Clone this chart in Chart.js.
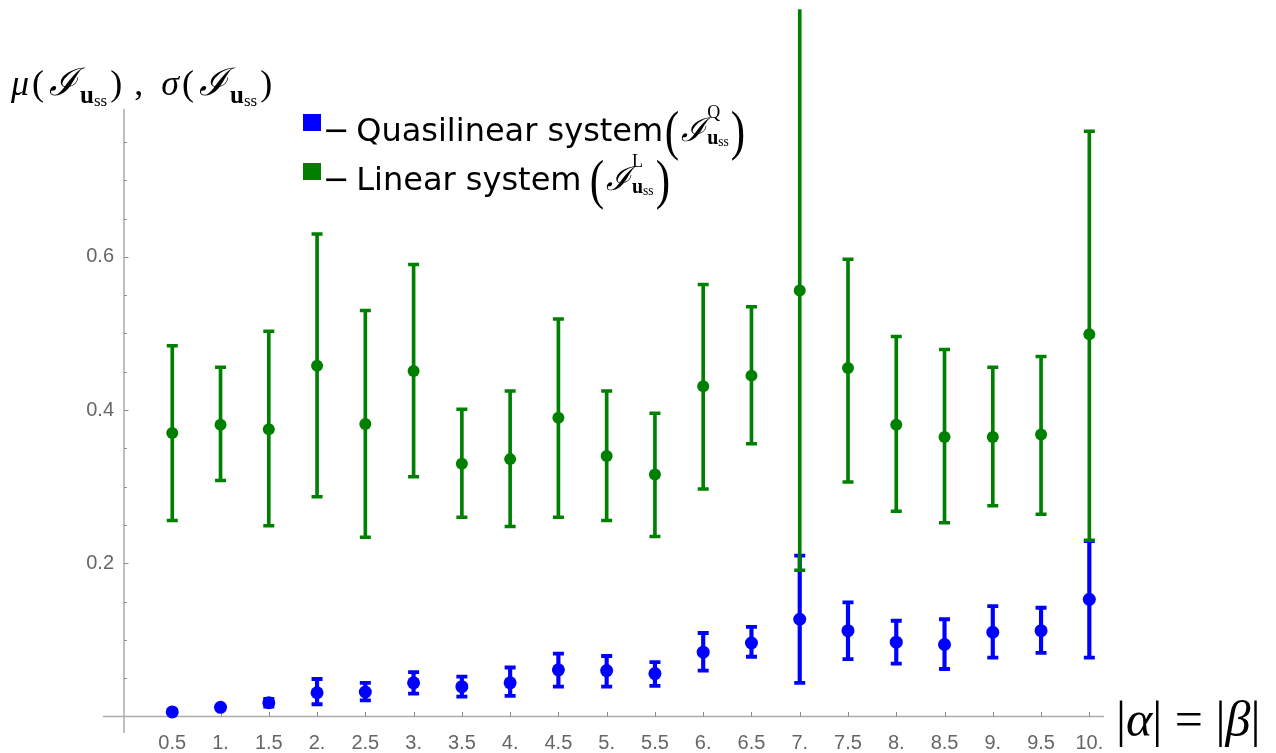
<!DOCTYPE html>
<html><head><meta charset="utf-8">
<script src="https://cdn.jsdelivr.net/npm/chart.js@4.4.1/dist/chart.umd.min.js"></script>
<style>
html,body{margin:0;padding:0;background:#fff;width:1276px;height:753px;overflow:hidden}
#wrap{position:relative;width:1276px;height:753px}
canvas{position:absolute;left:0;top:0}
.ov{position:absolute;white-space:nowrap;color:#000;line-height:1}
.serif{font-family:"Liberation Serif","DejaVu Serif",serif}
.sans{font-family:"DejaVu Sans",sans-serif}
.cal{font-family:"DejaVu Serif",serif;font-style:italic}
.sq{position:absolute;width:18px;height:17px}
.sub1{font-size:25px;vertical-align:-0.3em;margin-left:3px}
.sub2{font-size:68%;vertical-align:-0.18em;font-weight:normal}
.ss{display:inline-flex;flex-direction:column;vertical-align:middle;line-height:1;margin-left:1px}
.ss .up{font-size:18px;height:18px;margin-top:-16px}
.ss .dn{font-size:20px;margin-top:6px}
.par{font-size:54px;font-weight:normal;vertical-align:-8px;display:inline-block;transform:scaleX(0.8)}
.tp{display:inline-block;margin:0 3px}
</style>
</head><body>
<div id="wrap">
<canvas id="c" width="1276" height="753"></canvas>

<div class="ov serif" id="ytitle" style="left:11px;top:63px;font-size:36px;">
<i>μ</i><span class="tp">(</span><span class="cal" style="font-size:38px;margin-left:2px">ℐ</span><span class="sub1"><b>u</b><span class="sub2">ss</span></span><span class="tp">)</span>&nbsp;,&nbsp;&nbsp;<i>σ</i><span class="tp">(</span><span class="cal" style="font-size:38px;margin-left:2px">ℐ</span><span class="sub1"><b>u</b><span class="sub2">ss</span></span><span class="tp">)</span>
</div>

<div class="sq" style="left:303px;top:114px;background:rgb(0,0,255)"></div>
<div class="ov sans" style="left:323px;top:104px;font-size:32px;">−&thinsp;Quasilinear system<span class="serif"><span class="par">(</span><span class="cal" style="font-size:33px">ℐ</span><span class="ss"><span class="up">Q</span><span class="dn"><b>u</b><span class="sub2">ss</span></span></span><span class="par">)</span></span></div>

<div class="sq" style="left:303px;top:163px;background:rgb(0,128,0)"></div>
<div class="ov sans" style="left:323px;top:153px;font-size:32px;">−&thinsp;Linear system&thinsp;<span class="serif"><span class="par">(</span><span class="cal" style="font-size:33px">ℐ</span><span class="ss"><span class="up">L</span><span class="dn"><b>u</b><span class="sub2">ss</span></span></span><span class="par">)</span></span></div>

<div class="ov serif" id="xtitle" style="left:1116px;top:694px;font-size:50px;">|<i>α</i>|&nbsp;=&nbsp;|<i>β</i>|</div>
</div>

<script>
// ---- data ----
const xVals = [0.5,1,1.5,2,2.5,3,3.5,4,4.5,5,5.5,6,6.5,7,7.5,8,8.5,9,9.5,10];
const xTickLabels = ["0.5","1.","1.5","2.","2.5","3.","3.5","4.","4.5","5.","5.5","6.","6.5","7.","7.5","8.","8.5","9.","9.5","10."];
const yTickVals = [0.2,0.4,0.6];
const yTickLabels = ["0.2","0.4","0.6"];
const yMinorVals = [0.05,0.1,0.15,0.25,0.3,0.35,0.45,0.5,0.55,0.65,0.7,0.75];

const linearMean  = [0.370,0.381,0.375,0.458,0.382,0.451,0.330,0.336,0.390,0.340,0.316,0.431,0.445,0.556,0.455,0.381,0.365,0.365,0.368,0.499];
const linearUpper = [0.484,0.456,0.503,0.630,0.530,0.590,0.401,0.425,0.519,0.425,0.396,0.564,0.535,0.930,0.597,0.496,0.479,0.456,0.470,0.764];
const linearLower = [0.256,0.308,0.249,0.287,0.234,0.313,0.260,0.248,0.260,0.256,0.235,0.297,0.356,0.191,0.306,0.268,0.253,0.275,0.264,0.230];

const quasiMean  = [0.006,0.012,0.018,0.031,0.032,0.044,0.039,0.044,0.061,0.060,0.056,0.084,0.096,0.127,0.112,0.097,0.094,0.110,0.112,0.153];
const quasiUpper = [0.008,0.014,0.023,0.049,0.044,0.058,0.052,0.064,0.082,0.079,0.071,0.109,0.117,0.210,0.149,0.125,0.127,0.144,0.142,0.229];
const quasiLower = [0.004,0.010,0.013,0.016,0.021,0.030,0.026,0.027,0.039,0.039,0.040,0.060,0.078,0.044,0.075,0.069,0.062,0.077,0.083,0.077];

// ---- axis ranges ----
const X_MIN = 0, X_MAX = 10.152, X_AXIS_START = -0.218;
const Y_MIN = -0.0176, Y_MAX = 0.9232, Y_AXIS_TOP = 0.793;

const GREEN = 'rgb(0,128,0)';
const BLUE = 'rgb(0,0,255)';

function pts(arr){ return xVals.map((x,i)=>({x:x,y:arr[i]})); }
function bars(lo,hi){ return xVals.map((x,i)=>({x:x,y:[lo[i],hi[i]]})); }

const axesPlugin = {
  id:'mmaAxes',
  beforeDatasetsDraw(chart){
    const {ctx, scales:{x,y}} = chart;
    const y0 = y.getPixelForValue(0), x0 = x.getPixelForValue(0);
    ctx.save();
    ctx.strokeStyle = '#ababab'; ctx.lineWidth = 1.5;
    ctx.beginPath(); ctx.moveTo(x.getPixelForValue(X_AXIS_START), y0); ctx.lineTo(x.right, y0); ctx.stroke();
    ctx.beginPath(); ctx.moveTo(x0, y.bottom + 3); ctx.lineTo(x0, y.getPixelForValue(Y_AXIS_TOP)); ctx.stroke();
    ctx.strokeStyle = '#8a8a8a'; ctx.lineWidth = 1;
    xVals.forEach(v=>{ const p = Math.round(x.getPixelForValue(v))+0.5; ctx.beginPath(); ctx.moveTo(p,y0); ctx.lineTo(p,y0-4.5); ctx.stroke(); });
    yTickVals.forEach(v=>{ const p = Math.round(y.getPixelForValue(v))+0.5; ctx.beginPath(); ctx.moveTo(x0,p); ctx.lineTo(x0+4.5,p); ctx.stroke(); });
    yMinorVals.forEach(v=>{ const p = Math.round(y.getPixelForValue(v))+0.5; ctx.beginPath(); ctx.moveTo(x0,p); ctx.lineTo(x0+2.8,p); ctx.stroke(); });
    ctx.restore();
  }
};

const tickFont = {family:'"Liberation Sans", Arial, sans-serif', size:20};

new Chart(document.getElementById('c'), {
  type:'scatter',
  data:{datasets:[
    {label:'Linear mean', data:pts(linearMean), backgroundColor:GREEN, borderWidth:0, pointRadius:6, order:1},
    {label:'Linear caps', data:pts(linearUpper).concat(pts(linearLower)), pointStyle:'line', pointRadius:5.5, borderColor:GREEN, borderWidth:3.5, order:2},
    {type:'bar', label:'Linear bars', data:bars(linearLower,linearUpper), backgroundColor:GREEN, barThickness:3, grouped:false, borderWidth:0, order:3},
    {label:'Quasilinear mean', data:pts(quasiMean), backgroundColor:BLUE, borderWidth:0, pointRadius:6.5, order:4},
    {label:'Quasilinear caps', data:pts(quasiUpper).concat(pts(quasiLower)), pointStyle:'line', pointRadius:5.5, borderColor:BLUE, borderWidth:3.8, order:5},
    {type:'bar', label:'Quasilinear bars', data:bars(quasiLower,quasiUpper), backgroundColor:BLUE, barThickness:3.5, grouped:false, borderWidth:0, order:6}
  ]},
  options:{
    responsive:false, animation:false, events:[],
    layout:{padding:{top:7,right:172,left:0,bottom:0}},
    plugins:{legend:{display:false}, tooltip:{enabled:false}},
    scales:{
      x:{type:'linear', min:X_MIN, max:X_MAX, offset:false,
         grid:{display:false, drawTicks:false}, border:{display:false},
         afterBuildTicks:(s)=>{ s.ticks = xVals.map(v=>({value:v})); },
         afterFit:(s)=>{ s.height = 23; s.paddingLeft = 0; s.paddingRight = 0; },
         ticks:{autoSkip:false, maxRotation:0, minRotation:0, padding:1, color:'#666', font:tickFont,
                callback:(v,i)=>xTickLabels[i]}},
      y:{type:'linear', min:Y_MIN, max:Y_MAX,
         grid:{display:false, drawTicks:false}, border:{display:false},
         afterBuildTicks:(s)=>{ s.ticks = yTickVals.map(v=>({value:v})); },
         afterFit:(s)=>{ s.width = 124; s.paddingTop = 0; s.paddingBottom = 0; },
         ticks:{padding:10, color:'#666', font:tickFont, callback:(v,i)=>yTickLabels[i]}}
    }
  },
  plugins:[axesPlugin]
});
</script>
</body></html>
